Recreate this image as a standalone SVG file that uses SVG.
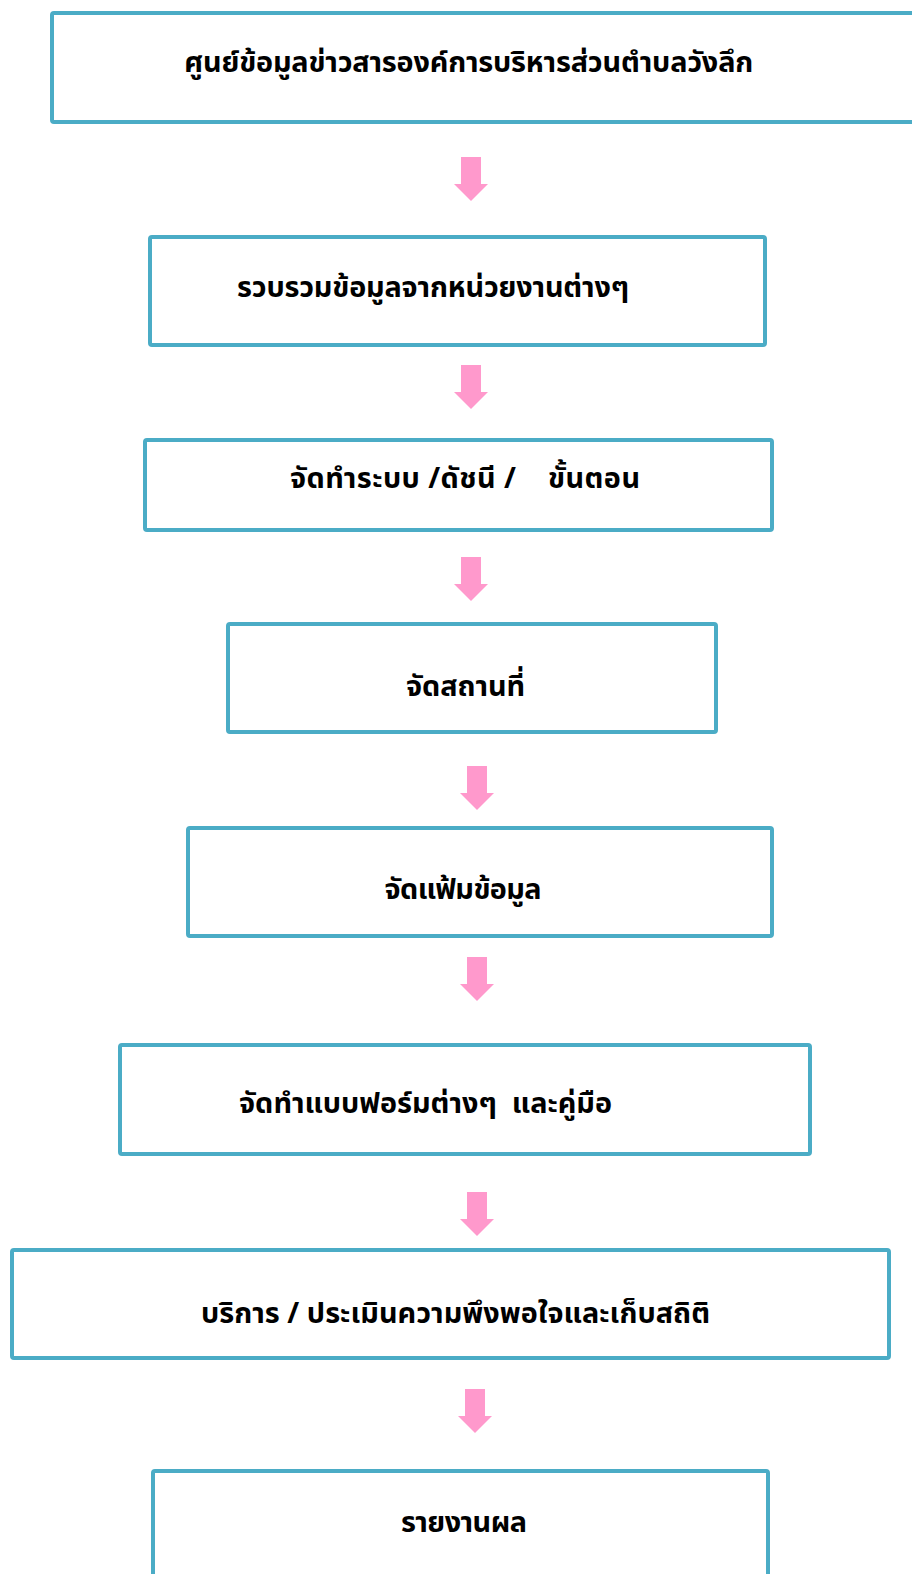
<svg xmlns="http://www.w3.org/2000/svg" width="912" height="1574" viewBox="0 0 912 1574">
<style>
.box{fill:#fff;stroke:#4BACC6;stroke-width:4}
.t{font-family:"Noto Sans Thai","Noto Sans","DejaVu Sans",sans-serif;font-weight:bold;font-size:28.8px;fill:#000}
.arr{fill:#FF99CC}
</style>
<defs>
<path id="arrow" d="M-10,0 h20 v27 h7 l-17,17 l-17,-17 h7 z"/>
</defs>
<rect width="912" height="1574" fill="#fff"/>
<g id="n1"><rect class="box" x="52" y="13" width="880" height="109" rx="2"/><text class="t" x="184" y="72" textLength="569" lengthAdjust="spacing">ศูนย์ข้อมูลข่าวสารองค์การบริหารส่วนตำบลวังลึก</text></g>
<g id="n2"><rect class="box" x="150" y="237" width="615" height="108" rx="2"/><text class="t" x="237" y="297" textLength="392" lengthAdjust="spacing">รวบรวมข้อมูลจากหน่วยงานต่างๆ</text></g>
<g id="n3"><rect class="box" x="145" y="440" width="627" height="90" rx="2"/><text class="t" x="290" y="488" textLength="350" lengthAdjust="spacing" xml:space="preserve">จัดทำระบบ /ดัชนี /    ขั้นตอน</text></g>
<g id="n4"><rect class="box" x="228" y="624" width="488" height="108" rx="2"/><text class="t" x="406" y="696" textLength="119" lengthAdjust="spacing">จัดสถานที่</text></g>
<g id="n5"><rect class="box" x="188" y="828" width="584" height="108" rx="2"/><text class="t" x="384" y="899" textLength="157" lengthAdjust="spacing">จัดแฟ้มข้อมูล</text></g>
<g id="n6"><rect class="box" x="120" y="1045" width="690" height="109" rx="2"/><text class="t" x="239" y="1113" textLength="373" lengthAdjust="spacing" xml:space="preserve">จัดทำแบบฟอร์มต่างๆ  และคู่มือ</text></g>
<g id="n7"><rect class="box" x="12" y="1250" width="877" height="108" rx="2"/><text class="t" x="201" y="1323" textLength="509" lengthAdjust="spacing">บริการ / ประเมินความพึงพอใจและเก็บสถิติ</text></g>
<g id="n8"><rect class="box" x="153" y="1471" width="615" height="130" rx="2"/><text class="t" x="401" y="1532" textLength="126" lengthAdjust="spacing">รายงานผล</text></g>
<g id="connectors">
<use href="#arrow" class="arr" x="471" y="157"/>
<use href="#arrow" class="arr" x="471" y="365"/>
<use href="#arrow" class="arr" x="471" y="557"/>
<use href="#arrow" class="arr" x="477" y="766"/>
<use href="#arrow" class="arr" x="477" y="957"/>
<use href="#arrow" class="arr" x="477" y="1192"/>
<use href="#arrow" class="arr" x="475" y="1389"/>
</g>
</svg>
